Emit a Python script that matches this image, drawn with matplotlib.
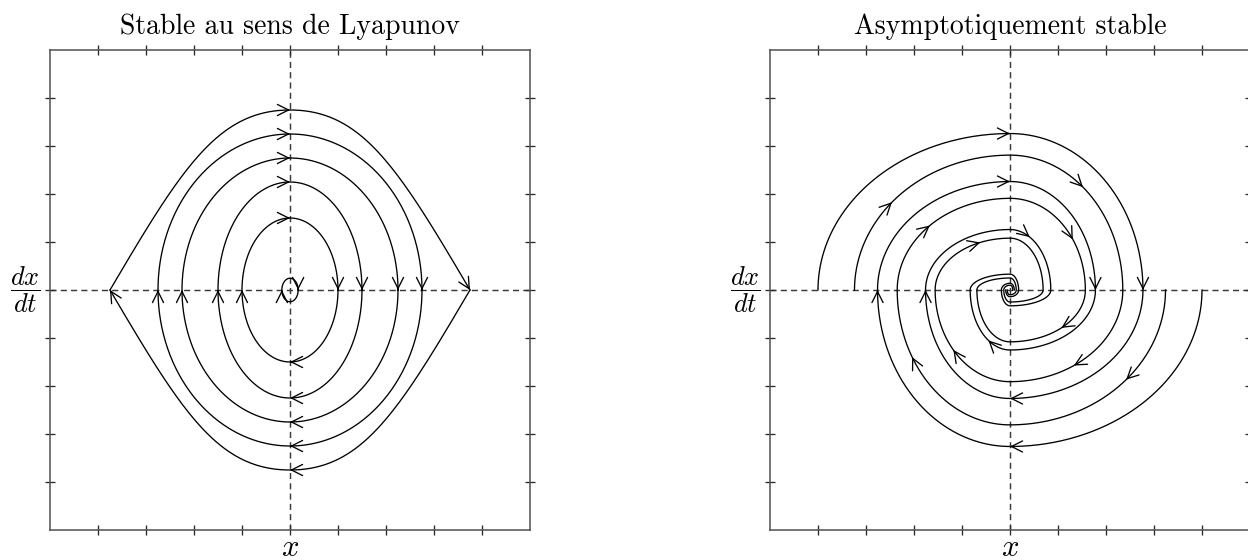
import numpy as np
import matplotlib
matplotlib.use("Agg")
import matplotlib.pyplot as plt

plt.rcParams["mathtext.fontset"] = "cm"
plt.rcParams["lines.scale_dashes"] = False

# ---------------- data ----------------
titles = ["Stable au sens de Lyapunov", "Asymptotiquement stable"]
x_label = "$x$"
y_label = r"$\dfrac{dx}{dt}$"
tick_values = [-4, -3, -2, -1, 0, 1, 2, 3, 4]
axis_limits = (-5, 5)

# Left panel: closed orbits (half-width in x, half-height in dx/dt)
orbit_x_amp = [0.17, 1.0, 1.5, 2.25, 2.75]
orbit_v_amp = [0.245, 1.5, 2.25, 2.75, 3.25]
separatrix_x = 3.75
separatrix_v = 3.75

# Right panel: spirals, successive axis crossings (alternating |x| and |dx/dt|),
# travelled clockwise from the start angle
spiral_start_deg = [180, 180, 0, 0]
spiral_a = [4.0, 3.26, 2.77, 2.26, 1.76, 1.26, 0.85, 0.33, 0.18, 0.14, 0.09]
spiral_b = [3.24, 2.81, 2.35, 1.91, 1.56, 1.08, 0.69, 0.25, 0.13, 0.10, 0.06]
spiral_c = [4.0, 3.26, 2.76, 2.26, 1.78, 1.25, 0.83, 0.33, 0.18, 0.14, 0.09]
spiral_d = [3.24, 2.81, 2.35, 1.91, 1.57, 1.08, 0.69, 0.25, 0.13, 0.10, 0.06]
# arrow positions along each spiral (swept angle, degrees)
spiral_a_arrows = [90, 0, -90, -180, -299]
spiral_b_arrows = [139.4, 49.7, -55.5, -139.1, -246.6]
spiral_c_arrows = [-90, -180, -270, -360, -482.8]
spiral_d_arrows = [-41.7, -150.2, -224.7, -326.5, -407]

# ---------------- helpers ----------------
W, H = 1248, 560
LW = 0.95
SPINE_C = "#505050"
DASH_C = "#3a3a3a"


def arrow(ax, tip, direction, back=0.05):
    d = np.asarray(direction, float)
    d = d / np.hypot(*d)
    tail = (tip[0] - d[0] * back, tip[1] - d[1] * back)
    ax.annotate("", xy=tip, xytext=tail,
                arrowprops=dict(arrowstyle="->,head_length=0.8,head_width=0.4",
                                lw=LW, color="black", shrinkA=0, shrinkB=0),
                annotation_clip=False)


def bezier(P0, P1, P2, P3, n=80):
    t = np.linspace(0, 1, n)[:, None]
    P0, P1, P2, P3 = map(np.asarray, (P0, P1, P2, P3))
    return (1 - t) ** 3 * P0 + 3 * (1 - t) ** 2 * t * P1 + 3 * (1 - t) * t ** 2 * P2 + t ** 3 * P3


def spiral_point(radii, theta0, t):
    k = int(np.floor((theta0 - t) / 90.0 + 1e-9))
    k = min(max(k, 0), len(radii) - 2)
    start = theta0 - 90 * k
    on_x = (round(start) % 180) == 0
    if on_x:
        a, b = radii[k], radii[k + 1]
    else:
        a, b = radii[k + 1], radii[k]
    phi = np.deg2rad(t)
    return a * np.cos(phi), b * np.sin(phi)


def setup(ax):
    ax.set_xlim(*axis_limits)
    ax.set_ylim(*axis_limits)
    ax.set_xticks(tick_values)
    ax.set_yticks(tick_values)
    ax.tick_params(direction="inout", length=7.5, width=0.95, colors="#2a2a2a",
                   top=True, right=True, labelbottom=False, labelleft=False)
    for s in ax.spines.values():
        s.set_color(SPINE_C)
        s.set_linewidth(1.1)
    ax.axhline(0, color=DASH_C, lw=1.05, dashes=(4.4, 3.0), zorder=1)
    ax.axvline(0, color=DASH_C, lw=1.05, dashes=(4.4, 3.0), zorder=1)


fig = plt.figure(figsize=(W / 100, H / 100), dpi=100)
ax1 = fig.add_axes([50 / W, 30 / H, 480 / W, 480 / H])
ax2 = fig.add_axes([770 / W, 30 / H, 480 / W, 480 / H])
setup(ax1)
setup(ax2)

# ---------------- left panel ----------------
phi = np.linspace(0, 2 * np.pi, 400)
for a, b in zip(orbit_x_amp, orbit_v_amp):
    ax1.plot(a * np.cos(phi), b * np.sin(phi), color="black", lw=LW, zorder=3)
    # clockwise motion
    arrow(ax1, (-a, 0), (0, 1), back=min(0.05, b * 0.2))
    arrow(ax1, (a, 0), (0, -1), back=min(0.05, b * 0.2))
    if a > 0.5:
        arrow(ax1, (0, b), (1, 0))
        arrow(ax1, (0, -b), (-1, 0))

A, V = separatrix_x, separatrix_v
upper = np.vstack([
    bezier((-A, 0), (-0.6 * A, 0.68 * V), (-0.4 * A, V), (0, V)),
    bezier((0, V), (0.4 * A, V), (0.6 * A, 0.68 * V), (A, 0)),
])
lower = upper.copy() * np.array([-1, -1])
ax1.plot(upper[:, 0], upper[:, 1], color="black", lw=LW, zorder=3)
ax1.plot(lower[:, 0], lower[:, 1], color="black", lw=LW, zorder=3)
arrow(ax1, (0, V), (1, 0))
arrow(ax1, (0, -V), (-1, 0))
arrow(ax1, (A, 0), (0.4 * A, -0.68 * V))
arrow(ax1, (-A, 0), (-0.4 * A, 0.68 * V))

# ---------------- right panel ----------------
spirals = [spiral_a, spiral_b, spiral_c, spiral_d]
arrows = [spiral_a_arrows, spiral_b_arrows, spiral_c_arrows, spiral_d_arrows]
for radii, th0, arrs in zip(spirals, spiral_start_deg, arrows):
    t_end = th0 - 90 * (len(radii) - 1)
    ts = np.linspace(th0, t_end, 1500)
    pts = np.array([spiral_point(radii, th0, t) for t in ts])
    ax2.plot(pts[:, 0], pts[:, 1], color="black", lw=LW, zorder=3)
    for t in arrs:
        tip = spiral_point(radii, th0, t)
        p_next = spiral_point(radii, th0, t - 0.5)
        p_prev = spiral_point(radii, th0, t + 0.5)
        arrow(ax2, tip, (p_next[0] - p_prev[0], p_next[1] - p_prev[1]))

# ---------------- texts ----------------
for cx, title in zip([290, 1010], titles):
    fig.text(cx / W, 1 - 34 / H, title, family="cmr10", fontsize=20,
             ha="center", va="baseline")
    fig.text(cx / W, 1 - 556 / H, x_label, fontsize=22, ha="center", va="baseline")
for lx in [25, 745]:
    fig.text(lx / W, 1 - 290 / H, y_label, fontsize=19, ha="center", va="center")

fig.savefig("out.png", dpi=100)
